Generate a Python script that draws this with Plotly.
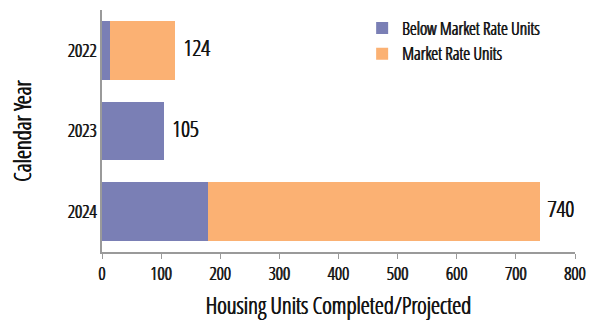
import plotly.graph_objects as go

years = ["2022", "2023", "2024"]
below_market = [14, 105, 180]
market_rate = [110, 0, 560]
totals = [124, 105, 740]
x_ticks = [0, 100, 200, 300, 400, 500, 600, 700, 800]

FONT = "Open Sans Condensed Light, Open Sans, sans-serif"
INK = "#111111"
# a thin horizontal text shadow gives the light condensed face a bit more weight
HEAVY = "0.45px 0 0 #111111, -0.45px 0 0 #111111"
PURPLE = "#7a7fb5"
ORANGE = "#fbb173"


def font(size):
    return dict(family=FONT, size=size, color=INK, shadow=HEAVY)


fig = go.Figure()
fig.add_trace(go.Bar(
    y=years, x=below_market, orientation="h", name="Below Market Rate Units",
    marker=dict(color=PURPLE, line=dict(width=0)),
))
fig.add_trace(go.Bar(
    y=years, x=market_rate, orientation="h", name="Market Rate Units",
    marker=dict(color=ORANGE, line=dict(width=0)),
))
# stacked totals written just past the end of each bar
fig.add_trace(go.Scatter(
    y=years, x=totals, mode="text", text=["  " + str(t) for t in totals],
    textposition="middle right", showlegend=False, cliponaxis=False,
    textfont=font(22), hoverinfo="skip",
))

fig.update_layout(
    width=589, height=321,
    margin=dict(l=102, r=14, t=10, b=69),
    barmode="stack", bargap=0.27,
    plot_bgcolor="white", paper_bgcolor="white",
    font=dict(family=FONT, color=INK),
    showlegend=True,
    legend=dict(
        x=0.55, y=1.0, xanchor="left", yanchor="top", traceorder="normal",
        font=font(17.5),
        bgcolor="rgba(0,0,0,0)", itemwidth=30, tracegroupgap=2,
    ),
    xaxis=dict(
        range=[0, 800], tickvals=x_ticks, showgrid=False, zeroline=False,
        showline=True, linecolor="#9a9a9a", linewidth=1.5,
        ticks="outside", ticklen=5, tickcolor="#9a9a9a",
        tickfont=font(18), automargin=False,
        title=dict(text="Housing Units Completed/Projected",
                   font=font(23), standoff=18),
    ),
    yaxis=dict(
        type="category", categoryorder="array",
        categoryarray=list(reversed(years)), range=[-0.5, 2.5],
        showgrid=False, zeroline=False,
        showline=True, linecolor="#9a9a9a", linewidth=1.5,
        ticks="", ticklen=0, automargin=False,
        tickfont=font(18),
        title=dict(text="Calendar Year", font=font(23), standoff=30),
    ),
)

fig.write_html("out.html")
